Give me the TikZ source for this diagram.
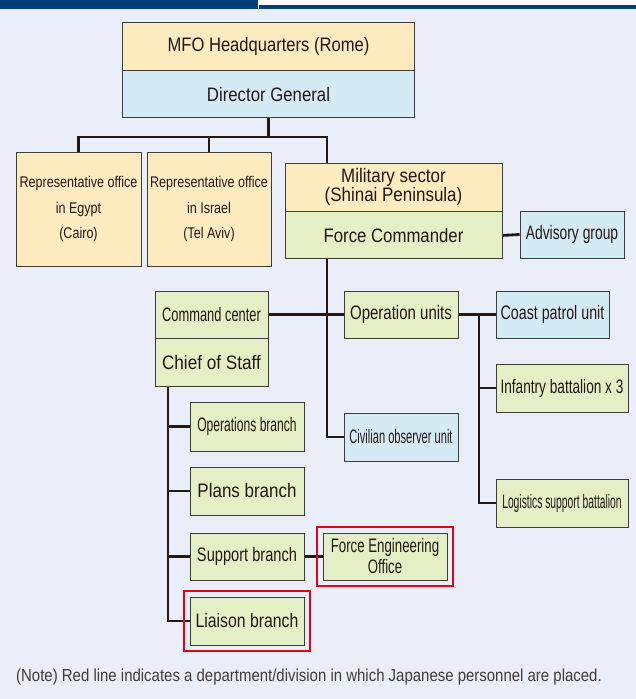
\documentclass[tikz,border=0pt]{standalone}
\usepackage{fontspec}
\setmainfont{Liberation Sans}[FakeStretch=0.86]
\usetikzlibrary{fit}

\definecolor{pagebg}{RGB}{233,238,248}
\definecolor{bandblue}{RGB}{0,62,122}
\definecolor{hqyellow}{RGB}{254,235,192}
\definecolor{unitblue}{RGB}{212,235,245}
\definecolor{unitgreen}{RGB}{228,239,198}
\definecolor{boxline}{RGB}{62,62,62}
\definecolor{ink}{RGB}{35,24,21}
\definecolor{jpred}{RGB}{230,0,18}

\pgfdeclarelayer{pagefill}
\pgfdeclarelayer{links}
\pgfsetlayers{pagefill,links,main}

\newcommand{\cfont}[3]{%
  \fontspec{Liberation Sans}[FakeStretch=#1]\fontsize{#2}{#3}\selectfont}
\newcommand{\JpnMark}[2]{%
  \node[jpframe, fit=#2] (#1) {};
}

\begin{document}
\begin{tikzpicture}[
    x=1pt,y=-1pt,
    line join=miter,
    box/.style={draw=boxline, line width=0.9pt, inner sep=0pt, text=ink,
        align=center, minimum height=48pt},
    yelbox/.style={box, fill=hqyellow},
    bluebox/.style={box, fill=unitblue},
    greenbox/.style={box, fill=unitgreen},
    link/.style={draw=ink, line width=2.8pt},
    jpframe/.style={draw=jpred, line width=2.3pt, inner sep=5.5pt}
]
\useasboundingbox (0,0) rectangle (636,699);

\begin{pgfonlayer}{pagefill}
    \fill[white] (0,0) rectangle (636,9);
    \fill[pagebg] (0,9) rectangle (636,699);
    \fill[bandblue] (0,0) rectangle (258,8.5);
    \fill[bandblue] (259,4.5) rectangle (636,8.5);
\end{pgfonlayer}


\node[yelbox, font=\cfont{0.85}{19.5}{22}, minimum width=292pt] (hq) at (268.5,46) {MFO Headquarters (Rome)};
\node[bluebox, font=\cfont{0.86}{19.5}{22}, minimum width=292pt, minimum height=47pt, anchor=north] (dg) at (hq.south) {Director General};


\node[yelbox, font=\cfont{0.81}{15.5}{25.5}, minimum width=125pt, minimum height=114pt] (egypt) at (78.5,209)
    {Representative office\\in Egypt\\(Cairo)};
\node[yelbox, font=\cfont{0.81}{15.5}{25.5}, minimum width=124pt, minimum height=114pt] (israel) at (209,209)
    {Representative office\\in Israel\\(Tel Aviv)};
\node[yelbox, font=\cfont{0.87}{19.5}{19.5}, minimum width=217pt] (mil) at (393.5,187)
    {Military sector\\(Shinai Peninsula)};
\node[greenbox, font=\cfont{0.86}{19.5}{22}, minimum width=217pt, minimum height=47pt, anchor=north] (fc) at (mil.south) {Force Commander};
\node[bluebox, font=\cfont{0.71}{19.5}{22}, minimum width=104pt, minimum height=47pt] (adv) at (572,234.5) {Advisory group};


\node[greenbox, font=\cfont{0.66}{19.5}{22}, minimum width=113pt, minimum height=47pt] (cmd) at (211.5,314.5) {Command center};
\node[greenbox, font=\cfont{0.88}{19.5}{22}, minimum width=113pt, anchor=north] (cos) at (cmd.south) {Chief of Staff};
\node[greenbox, font=\cfont{0.77}{19.5}{22}, minimum width=114pt, minimum height=47pt] (ops) at (401,314.5) {Operation units};
\node[bluebox, font=\cfont{0.57}{19.5}{22}, minimum width=114pt] (civ) at (401,437) {Civilian observer unit};


\node[bluebox, font=\cfont{0.73}{19.5}{22}, minimum width=113pt, minimum height=47pt] (coast) at (552.5,314.5) {Coast patrol unit};
\node[greenbox, font=\cfont{0.70}{19.5}{22}, minimum width=132pt] (inf) at (562,388) {Infantry battalion x 3};
\node[greenbox, font=\cfont{0.53}{19.5}{22}, minimum width=132pt] (log) at (562,503) {Logistics support battalion};


\node[greenbox, font=\cfont{0.62}{19.5}{22}, minimum width=114pt, minimum height=49pt] (opb) at (247,426.5) {Operations branch};
\node[greenbox, font=\cfont{0.87}{19.5}{22}, minimum width=114pt] (plb) at (247,491) {Plans branch};
\node[greenbox, font=\cfont{0.75}{19.5}{22}, minimum width=114pt, minimum height=47pt] (spb) at (247,556.5) {Support branch};
\node[greenbox, font=\cfont{0.81}{19.5}{22}, minimum width=114pt] (lib) at (247,621) {Liaison branch};
\node[greenbox, font=\cfont{0.68}{19.5}{21}, minimum width=124pt, minimum height=47pt] (feo) at (385,556.5)
    {Force Engineering\\Office};


\JpnMark{feomark}{(feo)}
\JpnMark{libmark}{(lib)}


\coordinate (spine) at (327,137);
\coordinate (obus) at (479,314.5);
\coordinate (cbus) at (168,386);

\begin{pgfonlayer}{links}
    \draw[link] (dg.south) -- (dg.south |- spine);
    \draw[link] (egypt.north) |- (spine) -- (mil.north -| spine);
    \draw[link] (israel.north) -- (israel.north |- spine);
    \draw[link] (fc.east) -- (adv.west);
    \draw[link] (fc.south -| spine) |- (civ.west);
    \draw[link] (cmd.east) -- (ops.west);


    \draw[link] (ops.east) -- (coast.west);
    \draw[link] (obus) |- (log.west);
    \draw[link] (inf.west) -- (inf.west -| obus);


    \draw[link] (cos.south -| cbus) |- (lib.west);
    \foreach \B in {opb,plb,spb} {
        \draw[link] (\B.west) -- (\B.west -| cbus);
    }
    \draw[link] (spb.east) -- (feo.west);
\end{pgfonlayer}


\node[anchor=west, inner sep=0pt, text=ink!85, font=\cfont{0.86}{17.4}{20}] (note) at (16,677)
    {(Note) Red line indicates a department/division in which Japanese personnel are placed.};
\end{tikzpicture}
\end{document}
